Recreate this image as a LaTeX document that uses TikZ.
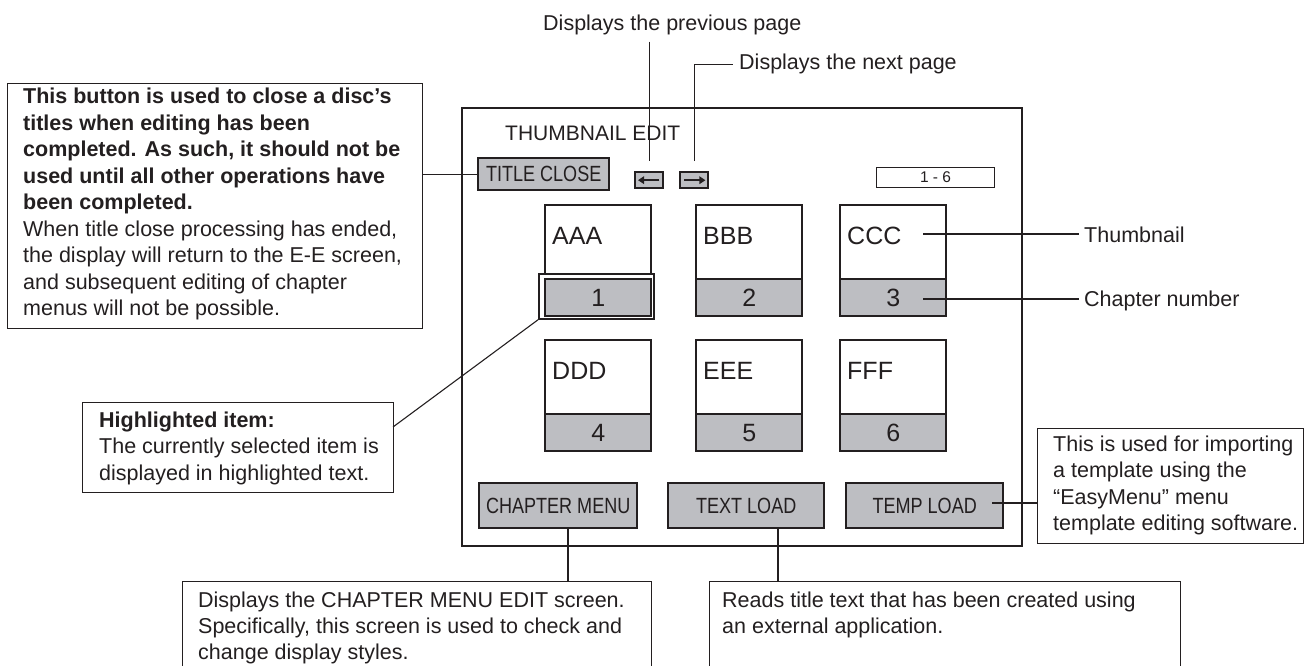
\documentclass[tikz,border=0pt]{standalone}
\usepackage{graphicx}
\usepackage{fontspec}
\setmainfont{Liberation Sans}
\usetikzlibrary{arrows.meta}
\definecolor{btn}{RGB}{189,190,194}
\definecolor{ink}{RGB}{35,31,32}
\newcommand{\cond}[1]{\scalebox{0.82}[1]{#1}}
\begin{document}
\begin{tikzpicture}[x=1pt,y=-1pt,
 lbl/.style={inner sep=0, anchor=base west, text=ink, font=\fontsize{21.5}{26}\selectfont},
 para/.style={inner sep=0, anchor=north west, align=left, text=ink, font=\fontsize{21.5}{26.55}\selectfont},
 frame/.style={draw=ink, line width=1.1pt, inner sep=0, anchor=north west},
 lead/.style={draw=ink, line width=1.1pt},
 thumb/.style={draw=ink, line width=2.4pt, fill=white, inner sep=0, anchor=north west, minimum width=106pt, minimum height=74pt},
 numbox/.style={draw=ink, line width=2.4pt, fill=btn, inner sep=0, anchor=north west, minimum width=106pt, minimum height=37pt, text=ink, font=\fontsize{25}{30}\selectfont},
 thtext/.style={inner sep=0, anchor=base west, text=ink, font=\fontsize{25}{30}\selectfont},
 button/.style={draw=ink, line width=2.4pt, fill=btn, inner sep=0, anchor=north west, text=ink, font=\fontsize{22}{26}\selectfont},
 icon/.style={draw=ink, line width=2.4pt, fill=btn, inner sep=0, anchor=north west, minimum width=28pt, minimum height=16pt},
 iarrow/.style={draw=ink, line width=2pt, -{Triangle[length=6pt,width=7.5pt]}},
]
\useasboundingbox (0,0) rectangle (1311,666);
\clip (0,0) rectangle (1311,666);

% main screen
\node[draw=ink, line width=2.2pt, inner sep=0, anchor=north west, minimum width=560pt, minimum height=438pt] (scr) at (461,107) {};
\node[lbl, font=\fontsize{21}{25}\selectfont] (ttl) at (505,140) {THUMBNAIL EDIT};

% title close button and page icons
\node[button, minimum width=131pt, minimum height=32pt] (tc) at (477,157) {\cond{TITLE CLOSE}};
\node[icon] (la) at (634,171) {};
\node[icon] (ra) at (679,171) {};
\draw[iarrow] ([xshift=-5pt]la.east) -- ([xshift=4pt]la.west);
\draw[iarrow] ([xshift=5pt]ra.west) -- ([xshift=-4pt]ra.east);
\node[frame, minimum width=118pt, minimum height=20pt, text=ink, font=\fontsize{15.5}{18}\selectfont] (pg) at (876,167) {1 - 6};

% thumbnails row 1
\node[thumb] (t1) at (544,204) {};
\node[thumb] (t2) at (695,204) {};
\node[thumb] (t3) at (839,204) {};
\node[draw=ink, line width=1.8pt, fill=white, inner sep=0, anchor=north west, minimum width=115pt, minimum height=45pt] (hl) at (538,273) {};
\node[numbox] (n1) at (544,278) {1};
\node[numbox] (n2) at (695,278) {2};
\node[numbox] (n3) at (839,278) {3};
\node[thtext] (a1) at (552,244) {AAA};
\node[thtext] (a2) at (703,244) {BBB};
\node[thtext] (a3) at (847,244) {CCC};

% thumbnails row 2
\node[thumb] (t4) at (544,339) {};
\node[thumb] (t5) at (695,339) {};
\node[thumb] (t6) at (839,339) {};
\node[numbox] (n4) at (544,413) {4};
\node[numbox] (n5) at (695,413) {5};
\node[numbox] (n6) at (839,413) {6};
\node[thtext] (a4) at (552,379) {DDD};
\node[thtext] (a5) at (703,379) {EEE};
\node[thtext] (a6) at (847,379) {FFF};

% bottom buttons
\node[button, minimum width=158pt, minimum height=45pt] (cm) at (478,482) {\cond{CHAPTER MENU}};
\node[button, minimum width=156pt, minimum height=45pt] (tl) at (667,482) {\cond{TEXT LOAD}};
\node[button, minimum width=157pt, minimum height=45pt] (tp) at (845,482) {\cond{TEMP LOAD}};

% top labels
\node[lbl] (prev) at (543,31) {Displays the previous page};
\node[lbl] (next) at (739,70) {Displays the next page};
\draw[lead] ([yshift=-6pt]prev.south -| la.north) -- ([yshift=10pt]la.north);
\draw[lead] ([yshift=10pt]ra.north) |- ([xshift=-6pt]next.west);

% right labels
\node[lbl] (thl) at (1084,242) {Thumbnail};
\node[lbl] (chl) at (1084,306) {Chapter number};
\coordinate (tha) at (923,234);
\coordinate (cha) at (923,299);
\draw[lead] (tha) -- ([xshift=-5pt]thl.west |- tha);
\draw[lead] (cha) -- ([xshift=-5pt]chl.west |- cha);

% left callout
\node[frame, minimum width=415pt, minimum height=245pt] (lc) at (7,83) {};
\node[para] (lct) at (23,84.7) {\strut\textbf{This button is used to close a disc’s}\\
\textbf{titles when editing has been}\\
\textbf{completed. As such, it should not be}\\
\textbf{used until all other operations have}\\
\textbf{been completed.}\\
When title close processing has ended,\\
the display will return to the E-E screen,\\
and subsequent editing of chapter\\
menus will not be possible.};
\draw[lead] (tc.west) -- (tc.west -| lc.east);

% highlighted item callout
\node[frame, minimum width=311pt, minimum height=90pt] (hb) at (82,402) {};
\node[para] (hbt) at (99,408.4) {\strut\textbf{Highlighted item:}\\
The currently selected item is\\
displayed in highlighted text.};
\coordinate (hla) at (393,427);
\draw[lead] (hla) -- (hl.south west);

% EasyMenu callout
\node[frame, minimum width=266pt, minimum height=115pt] (em) at (1037,428) {};
\node[para] (emt) at (1053,432.4) {\strut This is used for importing\\
a template using the\\
“EasyMenu” menu\\
template editing software.};
\coordinate (tpa) at (992,503);
\draw[lead] (tpa) -- (tpa -| em.west);

% bottom callouts
\node[frame, minimum width=469pt, minimum height=120pt] (cb) at (182,581) {};
\node[para, font=\fontsize{21.5}{26}\selectfont] (cbt) at (198,588.8) {\strut Displays the CHAPTER MENU EDIT screen.\\
Specifically, this screen is used to check and\\
change display styles.};
\node[frame, minimum width=471pt, minimum height=120pt] (rb) at (709,581) {};
\node[para, font=\fontsize{21.5}{26}\selectfont] (rbt) at (722,588.8) {\strut Reads title text that has been created using\\
an external application.};
\coordinate (cma) at (568,527);
\coordinate (tla) at (778,527);
\draw[lead] (cma) -- (cma |- cb.north);
\draw[lead] (tla) -- (tla |- rb.north);
\end{tikzpicture}
\end{document}
